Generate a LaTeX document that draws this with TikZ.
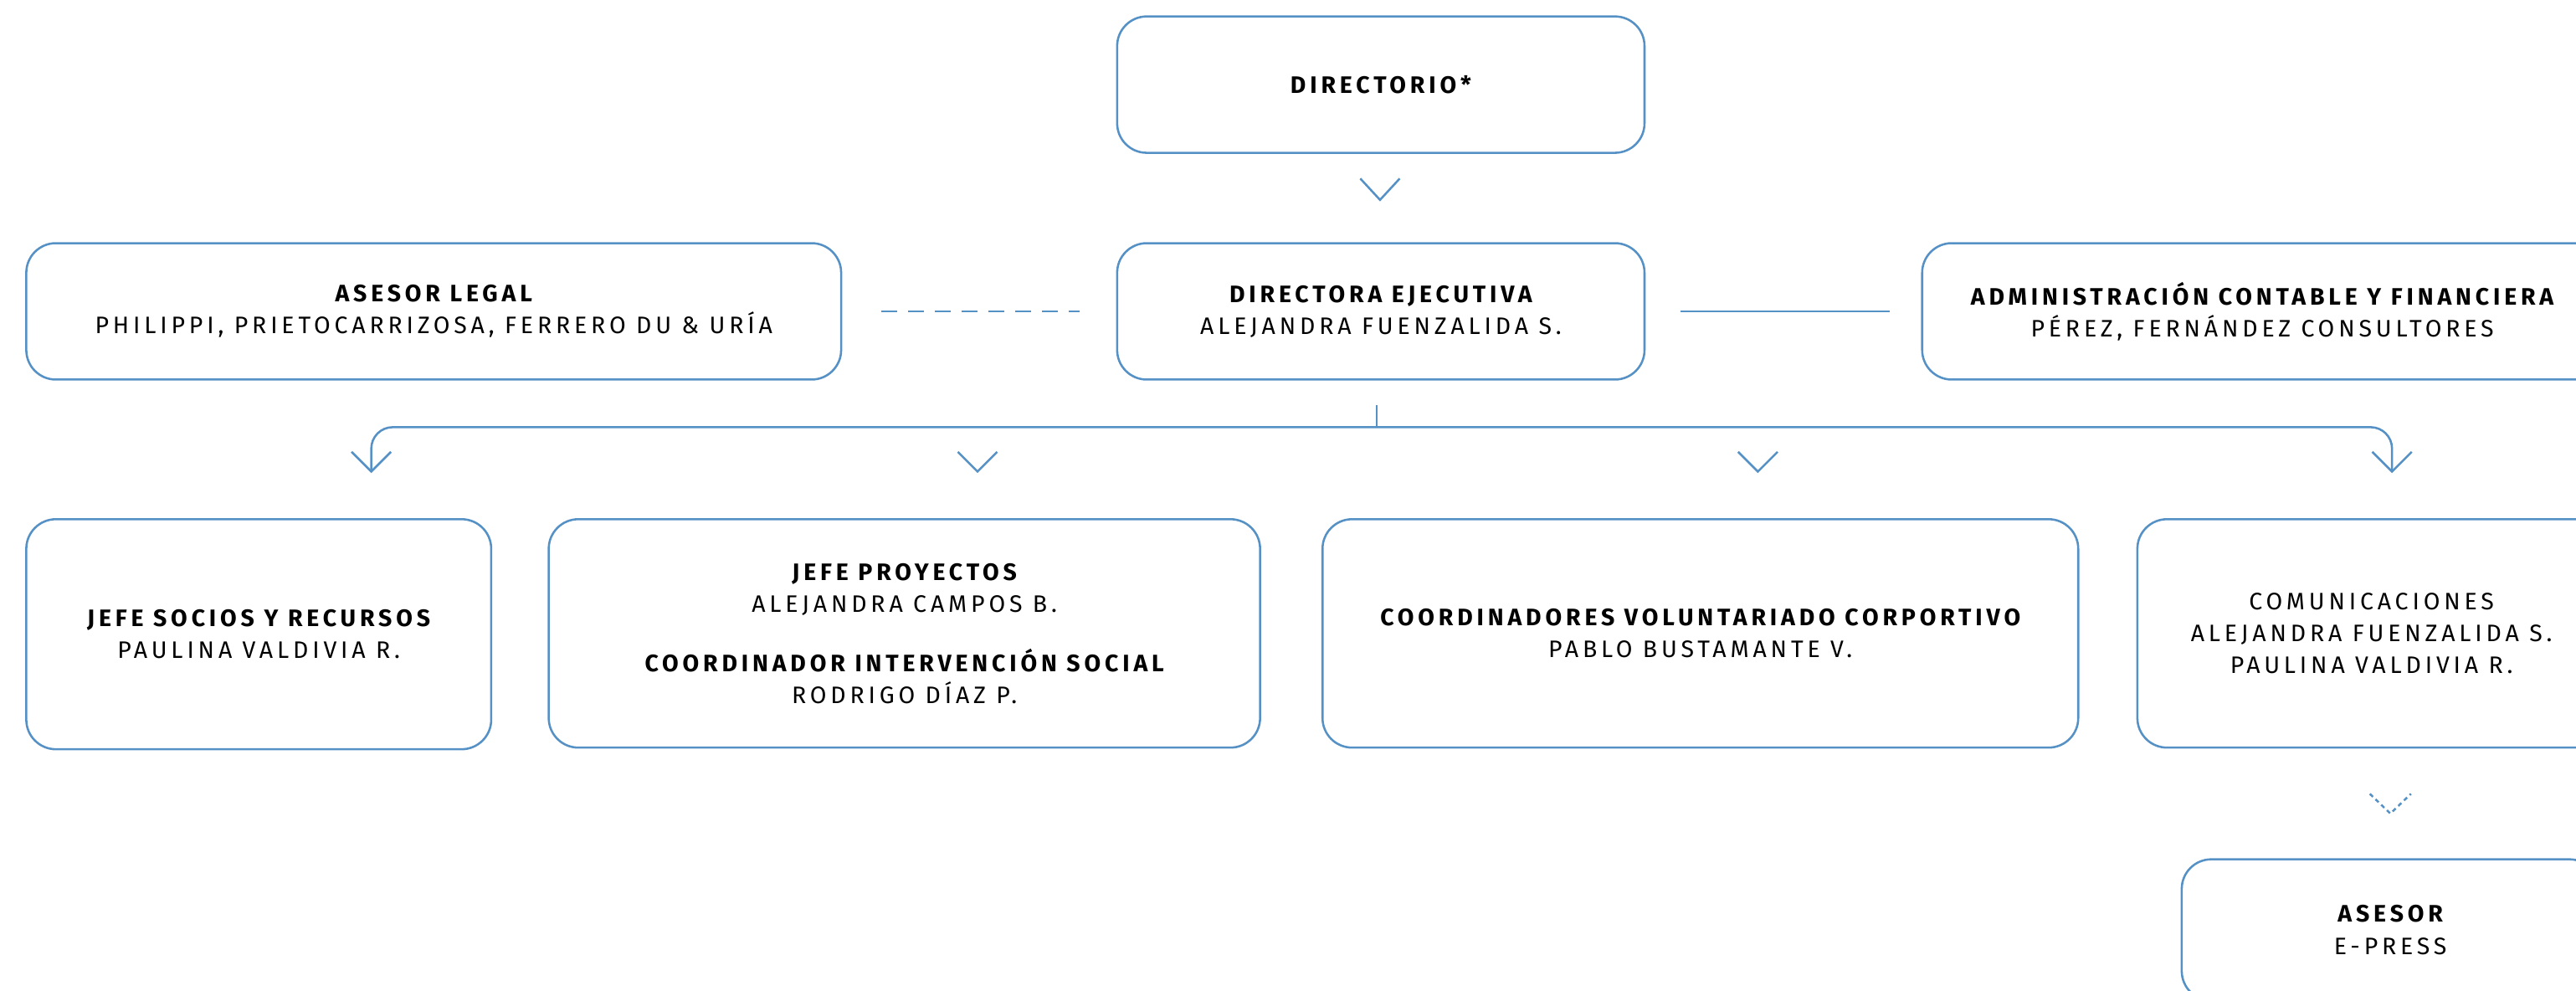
\documentclass[tikz,border=0pt]{standalone}
\usepackage{fontspec}
\setmainfont{Fira Sans}
\newfontfamily\hdfont{Fira Sans}[LetterSpace=17]
\usetikzlibrary{calc}
\definecolor{lineblue}{RGB}{86,145,198}
\newcommand{\B}[1]{{\bfseries #1}}
\begin{document}
\begin{tikzpicture}[x=1pt,y=-1pt,
  box/.style={draw=lineblue, line width=1.3pt, rounded corners=18pt, align=center,
    inner sep=0pt, font=\hdfont\fontsize{14.5}{19.5}\selectfont, text=black},
  conn/.style={draw=lineblue, line width=1.3pt},
  chev/.style={draw=lineblue, line width=1.3pt, line join=miter},
  dchev/.style={chev, dash pattern=on 2.6pt off 2.2pt},
  ]
\useasboundingbox (0,0) rectangle (1568,603);
% boxes
\node[box, minimum width=321pt, minimum height=83pt] (dir) at (840.5,51.5) {\B{DIRECTORIO*}};
\node[box, minimum width=496pt, minimum height=83pt] (legal) at (264,189.5)
  {\B{ASESOR LEGAL}\\ PHILIPPI, PRIETOCARRIZOSA, FERRERO DU \& URÍA};
\node[box, minimum width=321pt, minimum height=83pt] (de) at (840.5,189.5)
  {\B{DIRECTORA EJECUTIVA}\\ ALEJANDRA FUENZALIDA S.};
\node[box, minimum width=414pt, minimum height=83pt] (admin) at (1377,189.5)
  {\B{ADMINISTRACIÓN CONTABLE Y FINANCIERA}\\ PÉREZ, FERNÁNDEZ CONSULTORES};
\node[box, minimum width=283pt, minimum height=140pt] (socios) at (157.5,386)
  {\B{JEFE SOCIOS Y RECURSOS}\\ PAULINA VALDIVIA R.};
\node[box, minimum width=433pt, minimum height=139pt] (proy) at (550.5,385.5)
  {\B{JEFE PROYECTOS}\\ ALEJANDRA CAMPOS B.\\[16.5pt] \B{COORDINADOR INTERVENCIÓN SOCIAL}\\ RODRIGO DÍAZ P.};
\node[box, minimum width=460pt, minimum height=139pt] (coord) at (1035,385.5)
  {\B{COORDINADORES VOLUNTARIADO CORPORTIVO}\\ PABLO BUSTAMANTE V.};
\node[box, minimum width=285pt, minimum height=139pt] (com) at (1443.5,385.5)
  {COMUNICACIONES\\ ALEJANDRA FUENZALIDA S.\\ PAULINA VALDIVIA R.};
\node[box, minimum width=254pt, minimum height=86pt] (epress) at (1455,566)
  {\B{ASESOR}\\ E-PRESS};
% side links
\coordinate (dl1) at ($(legal.east)+(24,0)$);
\coordinate (dl2) at ($(de.west)+(-22,0)$);
\draw[conn, dash pattern=on 9.3pt off 7pt] (dl1) -- (dl2);
\coordinate (sl1) at ($(de.east)+(21,0)$);
\coordinate (sl2) at ($(admin.west)+(-19,0)$);
\draw[conn] (sl1) -- (sl2);
% chevron below directorio
\coordinate (c0) at ($(dir.south)+(-0.5,28)$);
\draw[chev] ($(c0)+(-12,-13)$) -- (c0) -- ($(c0)+(12,-13)$);
% tree
\coordinate (tk) at ($(de.south)+(-2.5,15)$);
\coordinate (bus) at (838,260);
\draw[conn] (tk) -- (bus);
\coordinate (cL) at (226,287);
\coordinate (cA) at (595,287);
\coordinate (cB) at (1070,287);
\coordinate (cR) at (1456,287);
\draw[conn, rounded corners=13pt] (cL) -- (cL |- bus) -- (cR |- bus) -- (cR);
\foreach \c in {cL,cA,cB,cR}
  \draw[chev] ($(\c)+(-12,-12)$) -- (\c) -- ($(\c)+(12,-12)$);
% dashed chevron to e-press
\coordinate (cE) at ($(com.south)+(11.5,39.5)$);
\draw[dchev] ($(cE)+(-12.5,-12)$) -- (cE) -- ($(cE)+(12.5,-12)$);
\end{tikzpicture}
\end{document}
